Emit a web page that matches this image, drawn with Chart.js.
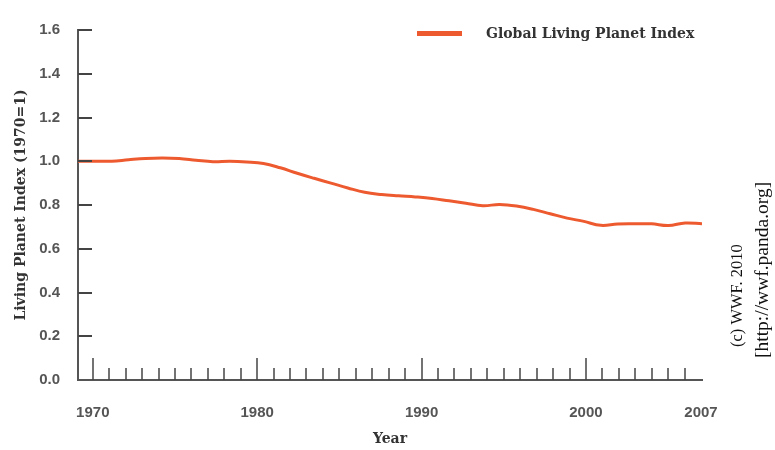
<!DOCTYPE html>
<html>
<head>
<meta charset="utf-8">
<script src="https://cdn.jsdelivr.net/npm/chart.js@4.4.0/dist/chart.umd.min.js"></script>
<style>
  html, body { margin: 0; padding: 0; background: #fff; }
  #wrap { width: 775px; height: 450px; }
</style>
</head>
<body>
<div id="wrap"><canvas id="lpi"></canvas></div>
<script>
// data
const years = [1970, 1971, 1972, 1973, 1974, 1975, 1976, 1977, 1978, 1979,
  1980, 1981, 1982, 1983, 1984, 1985, 1986, 1987, 1988, 1989,
  1990, 1991, 1992, 1993, 1994, 1995, 1996, 1997, 1998, 1999,
  2000, 2001, 2002, 2003, 2004, 2005, 2006, 2007];
const lpiValues = [1.00, 1.00, 1.00, 1.007, 1.013, 1.015, 1.013, 1.005, 0.998, 1.00,
  0.997, 0.99, 0.97, 0.945, 0.922, 0.90, 0.878, 0.858, 0.848, 0.842,
  0.837, 0.83, 0.819, 0.808, 0.797, 0.802, 0.795, 0.78, 0.76, 0.74,
  0.725, 0.707, 0.713, 0.714, 0.714, 0.706, 0.718, 0.714];
const xTickLabels = [1970, 1980, 1990, 2000, 2007];
const majorYears = [1970, 1980, 1990, 2000];
const yTickLabels = [0.0, 0.2, 0.4, 0.6, 0.8, 1.0, 1.2, 1.4, 1.6];
const seriesLabel = 'Global Living Planet Index';
const creditLines = ['(c) WWF. 2010', '[http://wwf.panda.org]'];

const lineColor = '#ee5a2f';
const axisColor = '#555';

// inward tick marks, legend and credit text
const decorations = {
  id: 'decorations',
  afterDatasetsDraw(chart) {
    const { ctx, chartArea, scales } = chart;
    const xt = scales.xTicks, y = scales.y;
    ctx.save();
    ctx.strokeStyle = '#444';
    ctx.lineWidth = 1.5;
    years.slice(0, -1).forEach(yr => {
      const px = Math.round(xt.getPixelForValue(yr));
      const len = majorYears.includes(yr) ? 22 : 12;
      ctx.beginPath();
      ctx.moveTo(px, chartArea.bottom);
      ctx.lineTo(px, chartArea.bottom - len);
      ctx.stroke();
    });
    ctx.lineWidth = 2;
    yTickLabels.slice(1).forEach(v => {
      const py = Math.round(y.getPixelForValue(v));
      ctx.beginPath();
      ctx.moveTo(chartArea.left, py);
      ctx.lineTo(chartArea.left + 14, py);
      ctx.stroke();
    });

    // legend
    ctx.fillStyle = lineColor;
    ctx.fillRect(417, 31, 45, 5);
    ctx.fillStyle = '#333';
    ctx.font = 'bold 14px "DejaVu Serif"';
    ctx.textAlign = 'left';
    ctx.textBaseline = 'middle';
    ctx.fillText(chart.data.datasets[0].label, 486, 34);

    // credit, rotated
    ctx.fillStyle = '#111';
    [[738, 347, 16.5], [763, 358, 19.5]].forEach((p, i) => {
      ctx.save();
      ctx.font = p[2] + 'px "Liberation Serif"';
      ctx.translate(p[0], p[1]);
      ctx.rotate(-Math.PI / 2);
      ctx.fillText(creditLines[i], 0, 0);
      ctx.restore();
    });
    ctx.restore();
  }
};

new Chart(document.getElementById('lpi'), {
  type: 'line',
  data: {
    datasets: [{
      label: seriesLabel,
      data: years.map((yr, i) => ({ x: yr, y: lpiValues[i] })),
      borderColor: lineColor,
      borderWidth: 3,
      pointRadius: 0,
      tension: 0.4,
      fill: false
    }]
  },
  options: {
    responsive: true,
    maintainAspectRatio: false,
    animation: false,
    layout: { padding: { top: 30, right: 73, left: 0, bottom: 0 } },
    plugins: {
      legend: { display: false },
      tooltip: { enabled: false }
    },
    scales: {
      // the series spans the full axis line
      x: {
        type: 'linear',
        min: 1970,
        max: 2007,
        display: false
      },
      // tick marks and year labels sit slightly inside the axis ends
      xTicks: {
        type: 'linear',
        position: 'bottom',
        min: 1969.1,
        max: 2007.06,
        afterFit: s => { s.height = 70; },
        afterBuildTicks: s => { s.ticks = xTickLabels.map(v => ({ value: v })); },
        grid: { display: false, drawTicks: false },
        border: { display: true, color: axisColor, width: 2 },
        ticks: {
          padding: 24,
          color: '#555',
          font: { family: '"Liberation Sans"', size: 15, weight: 'bold' },
          maxRotation: 0,
          callback: v => String(v)
        },
        title: {
          display: true,
          text: 'Year',
          color: '#333',
          font: { family: '"DejaVu Serif"', size: 14, weight: 'bold' },
          padding: { top: 0, bottom: 2 }
        }
      },
      y: {
        min: 0,
        max: 1.6,
        afterFit: s => { s.width = 78; },
        afterBuildTicks: s => { s.ticks = yTickLabels.map(v => ({ value: v })); },
        grid: { display: false, drawTicks: false },
        border: { display: true, color: axisColor, width: 2 },
        ticks: {
          padding: 18,
          color: '#555',
          font: { family: '"Liberation Sans"', size: 15, weight: 'bold' },
          callback: v => Number(v).toFixed(1)
        },
        title: {
          display: true,
          text: 'Living Planet Index (1970=1)',
          color: '#333',
          font: { family: '"DejaVu Serif"', size: 14, weight: 'bold' },
          padding: { top: 13, bottom: 0 }
        }
      }
    }
  },
  plugins: [decorations]
});
</script>
</body>
</html>
